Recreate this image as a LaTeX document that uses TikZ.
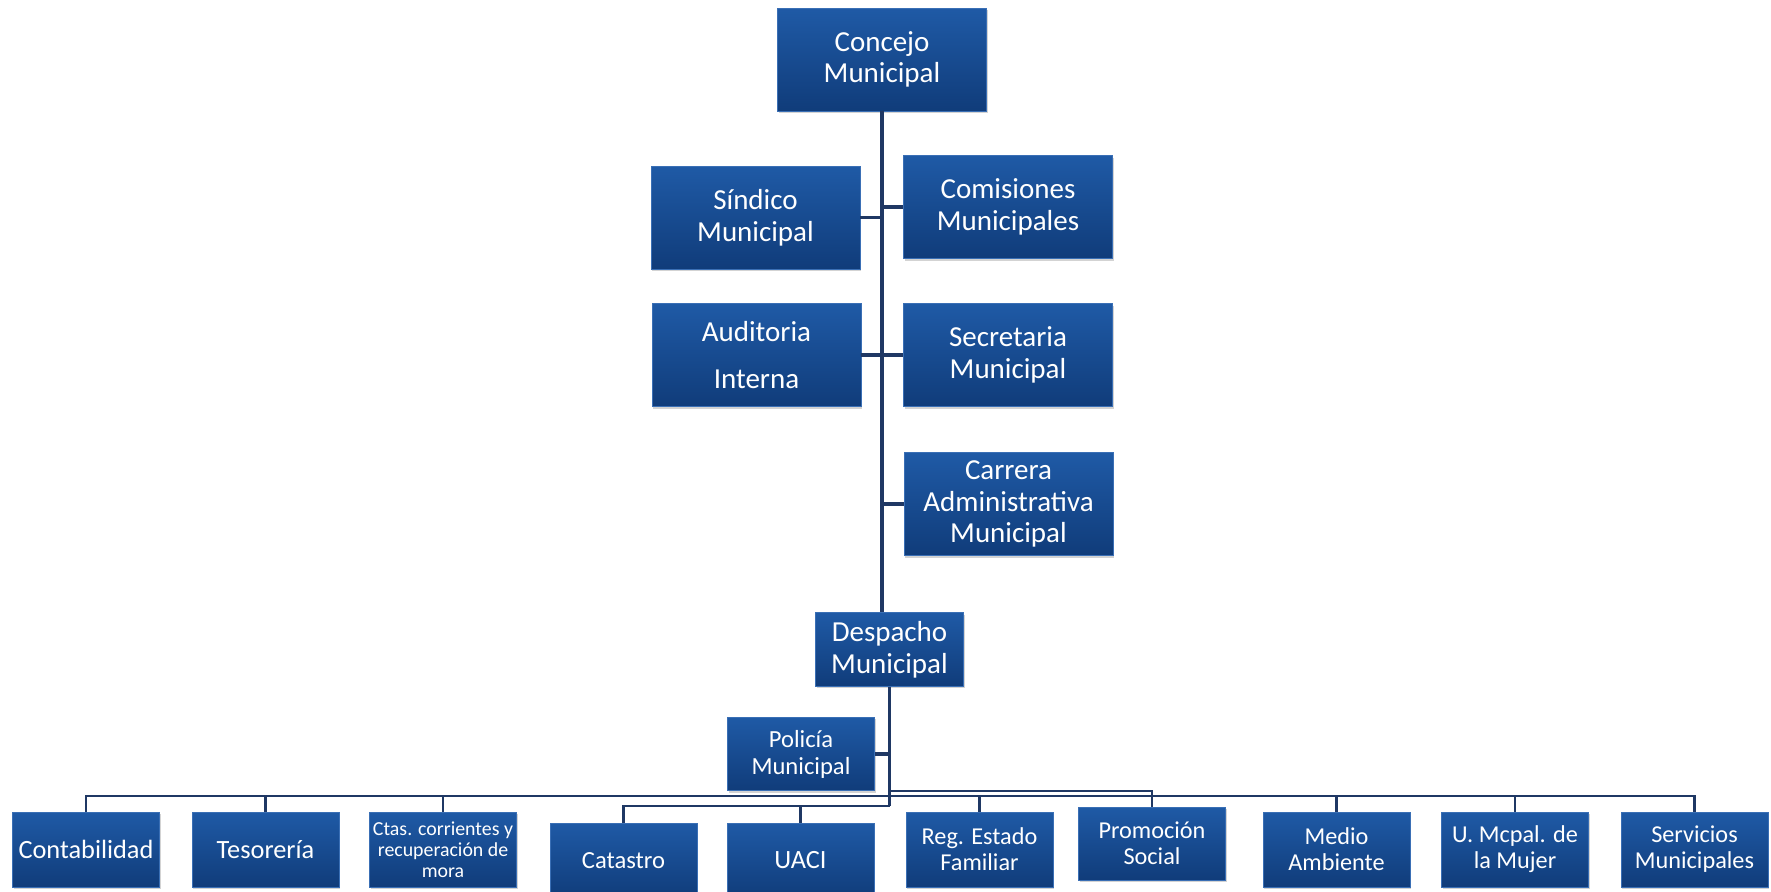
\documentclass[tikz,border=0pt]{standalone}
\usepackage{fontspec}
\setmainfont{Carlito}
\usetikzlibrary{shadows}
\definecolor{boxtop}{HTML}{1F5AA6}
\definecolor{boxbottom}{HTML}{103C7A}
\definecolor{boxedge}{HTML}{3A6FB5}
\definecolor{linkblue}{HTML}{1F3864}
\tikzstyle{unit}=[rectangle,top color=boxtop,bottom color=boxbottom,draw=boxedge,line width=0.5pt,text=white,align=center,inner sep=2pt,drop shadow={shadow xshift=0.8pt,shadow yshift=-1.2pt,opacity=0.35}]
\tikzstyle{topunit}=[unit,minimum width=4.18cm,minimum height=2.06cm,font=\fontsize{16.5}{18}\selectfont]
\tikzstyle{deskunit}=[unit,minimum width=2.95cm,minimum height=1.47cm]
\tikzstyle{deptunit}=[unit,minimum width=2.94cm,minimum height=1.5cm,font=\fontsize{13.8}{14.9}\selectfont]
\tikzstyle{deptsingle}=[deptunit,font=\fontsize{15}{16}\selectfont]
\tikzstyle{link}=[draw=linkblue,line width=2.2pt]
\tikzstyle{bus}=[draw=linkblue,line width=1.5pt]

\begin{document}
\begin{tikzpicture}[x=0.02cm,y=-0.02cm]
\useasboundingbox (0,0) rectangle (1771,892);

% council and advisory units
\node (concejo) [topunit] at (882,59.5) {Concejo\\Municipal};
\node (sindico) [topunit] at (755.5,217.5) {Síndico\\Municipal};
\node (comisiones) [topunit] at (1008,207) {Comisiones\\Municipales};
\node (auditoria) [topunit] at (756.5,355) {Auditoria\\[0.3cm]Interna};
\node (secretaria) [topunit] at (1008,355) {Secretaria\\Municipal};
\node (carrera) [topunit] at (1008.5,504) {Carrera\\Administrativa\\Municipal};

% mayor's office
\node (despacho) [deskunit,font=\fontsize{16.5}{18}\selectfont] at (889.5,649.5) {Despacho\\Municipal};
\node (policia) [deskunit,font=\fontsize{14}{15.3}\selectfont] at (801,754) {Policía\\Municipal};

% departments
\node (contab) [deptsingle] at (86,849.5) {Contabilidad};
\node (tesoreria) [deptsingle] at (265.5,849.5) {Tesorería};
\node (ctas) [deptunit,font=\fontsize{11.3}{11.9}\selectfont] at (443,849.5) {Ctas. corrientes y\\recuperación de\\mora};
\node (catastro) [deptunit,font=\fontsize{14}{15}\selectfont] at (623.5,860.5) {Catastro};
\node (uaci) [deptsingle] at (800.5,860.5) {UACI};
\node (regestado) [deptunit] at (979.5,849.5) {Reg. Estado\\Familiar};
\node (promocion) [deptunit,minimum height=1.46cm] at (1152,843.5) {Promoción\\Social};
\node (medio) [deptunit] at (1336.5,849.5) {Medio\\Ambiente};
\node (umcpal) [deptunit] at (1515,849.5) {U. Mcpal. de\\la Mujer};
\node (servicios) [deptunit] at (1694.5,849.5) {Servicios\\Municipales};

\coordinate (mainbus) at (0,796);
\coordinate (highbus) at (889.5,791);
\coordinate (lowbus) at (889.5,806);

% upper trunk
\draw[link] (concejo.south) -- (concejo.south |- despacho.north);
\draw[link] (sindico.east) -- (sindico.east -| concejo.south);
\draw[link] (comisiones.west) -- (comisiones.west -| concejo.south);
\draw[link] (auditoria.east) -- (secretaria.west);
\draw[link] (carrera.west) -- (carrera.west -| concejo.south);

% lower trunk
\draw[link] (despacho.south) -- (lowbus);
\draw[link] (policia.east) -- (policia.east -| despacho.south);
\draw[bus] (contab.north) |- (servicios.north |- mainbus) -- (servicios.north);
\foreach \n in {tesoreria,ctas,regestado,medio,umcpal}
  \draw[bus] (\n.north) -- (\n.north |- mainbus);
\draw[bus] (highbus) -| (promocion.north);
\draw[bus] (lowbus) -| (catastro.north);
\draw[bus] (uaci.north) -- (uaci.north |- lowbus);
\end{tikzpicture}
\end{document}
